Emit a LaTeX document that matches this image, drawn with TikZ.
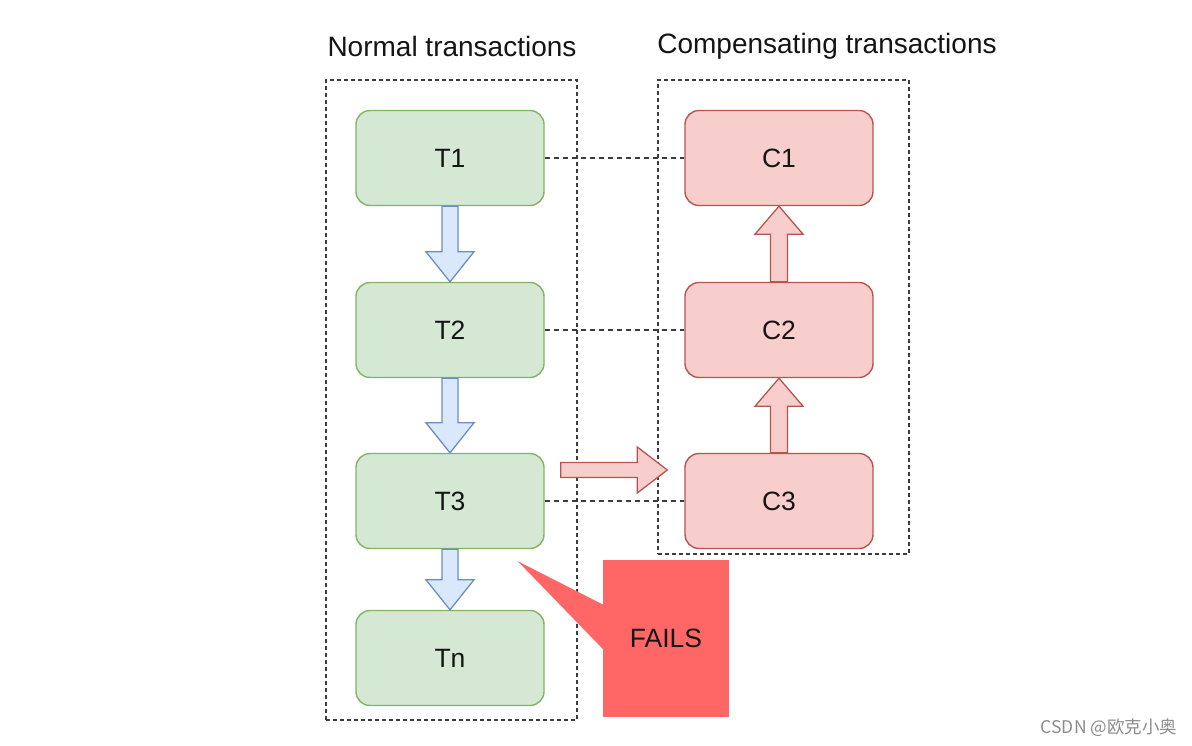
\documentclass[tikz,border=0pt]{standalone}
\usepackage{fontspec}
\setmainfont{Liberation Sans}
\newfontfamily\cjk{Noto Sans CJK SC}
\usetikzlibrary{calc}
\definecolor{gfill}{HTML}{D5E8D4}
\definecolor{gline}{HTML}{82B366}
\definecolor{bfill}{HTML}{DAE8FC}
\definecolor{bline}{HTML}{6C8EBF}
\definecolor{rfill}{HTML}{F8CECC}
\definecolor{rline}{HTML}{B85450}
\definecolor{failfill}{HTML}{FF6666}
\definecolor{txt}{HTML}{141414}
\definecolor{dashc}{HTML}{3C3C3C}
\tikzset{
  gbox/.style={draw=gline, fill=gfill, line width=1.4pt, rounded corners=14pt,
    minimum width=188pt, minimum height=95pt, inner sep=0pt, text=txt,
    font=\fontsize{26.5}{30}\selectfont},
  rbox/.style={gbox, draw=rline, fill=rfill},
  group/.style={draw=dashc, line width=1.4pt, dash pattern=on 4pt off 3pt,
    minimum width=251pt, inner sep=0pt},
  link/.style={draw=dashc, line width=1.4pt, dash pattern=on 5pt off 4pt},
  title/.style={text=txt, font=\fontsize{28}{32}\selectfont, inner sep=0pt},
  barrow/.style={fill=bfill, draw=bline, line width=1.3pt, line join=miter},
  rarrow/.style={fill=rfill, draw=rline, line width=1.3pt, line join=miter},
}
\newcommand{\blkdown}[2]{%
  \draw[barrow] ($(#1.south)+(-8,0)$) -- ($(#2.north)+(-8,-30)$) -- ($(#2.north)+(-24,-30)$)
    -- (#2.north) -- ($(#2.north)+(24,-30)$) -- ($(#2.north)+(8,-30)$) -- ($(#1.south)+(8,0)$) -- cycle;}
\newcommand{\blkup}[2]{%
  \draw[rarrow] ($(#1.north)+(-8.5,0)$) -- ($(#2.south)+(-8.5,28)$) -- ($(#2.south)+(-24,28)$)
    -- (#2.south) -- ($(#2.south)+(24,28)$) -- ($(#2.south)+(8.5,28)$) -- ($(#1.north)+(8.5,0)$) -- cycle;}
\begin{document}
\begin{tikzpicture}[x=1pt,y=-1pt]
\useasboundingbox (0,0) rectangle (1192,746);
% groups
\node[group, minimum height=640pt] (gl) at (451.5,400) {};
\node[group, minimum height=474pt] (gr) at (783.5,317) {};
\node[title] (tl) at (452,46) {Normal transactions};
\node[title] (tr) at (827,46) {Compensating transactions};
% boxes
\node[gbox] (T1) at (450,158) {T1};
\node[gbox] (T2) at (450,330) {T2};
\node[gbox] (T3) at (450,501) {T3};
\node[gbox] (Tn) at (450,658) {Tn};
\node[rbox] (C1) at (779,158) {C1};
\node[rbox] (C2) at (779,330) {C2};
\node[rbox] (C3) at (779,501) {C3};
% dashed links
\draw[link] (T1.east) -- (C1.west);
\draw[link] (T2.east) -- (C2.west);
\draw[link] (T3.east) -- (C3.west);
% block arrows
\blkdown{T1}{T2}
\blkdown{T2}{T3}
\blkdown{T3}{Tn}
\blkup{C3}{C2}
\blkup{C2}{C1}
\coordinate (hs) at ($(T3.east)+(16,-31)$);
\coordinate (he) at ($(C3.west)+(-17,-31)$);
\draw[rarrow] ($(hs)+(0,-7.5)$) -- ($(he)+(-30,-7.5)$) -- ($(he)+(-30,-23)$) -- (he)
  -- ($(he)+(-30,23)$) -- ($(he)+(-30,7.5)$) -- ($(hs)+(0,7.5)$) -- cycle;
% FAILS callout
\node[fill=failfill, minimum width=126pt, minimum height=157pt, inner sep=0pt,
  text=txt, font=\fontsize{26.5}{30}\selectfont] (F) at (666,638) {FAILS};
\coordinate (ftip) at ($(T3.south east)+(-27,12)$);
\fill[failfill] ($(F.west)+(1,-33)$) -- (ftip) -- ($(F.west)+(1,12)$) -- cycle;
% watermark
\node[text=gray!90, font=\cjk\fontsize{17.5}{20}\selectfont, inner sep=0pt] (wm) at (1109,728) {CSDN @欧克小奥};
\end{tikzpicture}
\end{document}
